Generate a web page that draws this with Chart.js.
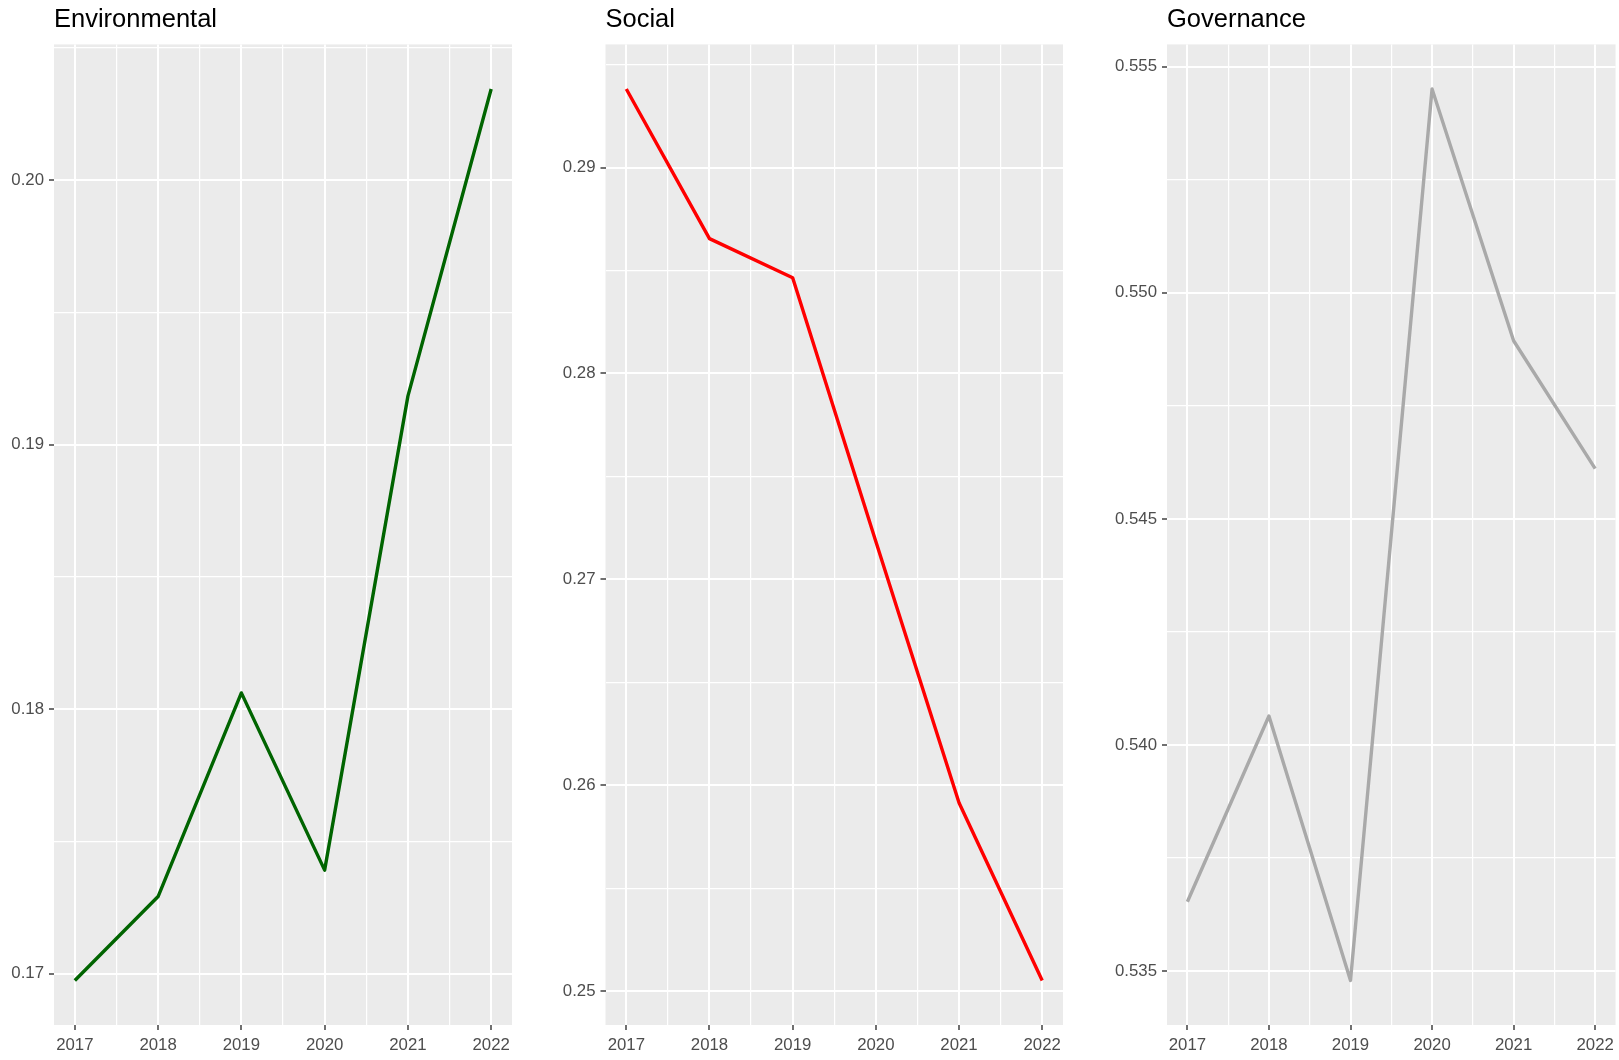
<!DOCTYPE html>
<html>
<head>
<meta charset="utf-8">
<script src="https://cdn.jsdelivr.net/npm/chart.js@4.4.1/dist/chart.umd.min.js"></script>
<style>
  html, body { margin: 0; padding: 0; background: #ffffff; }
  #wrap { position: relative; width: 1619px; height: 1060px; overflow: hidden; background: #ffffff; }
  #wrap canvas { position: absolute; top: 0; }
</style>
</head>
<body>
<div id="wrap">
  <canvas id="env" width="540" height="1060" style="left:0px"></canvas>
  <canvas id="soc" width="540" height="1060" style="left:540px"></canvas>
  <canvas id="gov" width="539" height="1060" style="left:1080px"></canvas>
</div>
<script>
// ESG pillar scores by year
const years = [2017, 2018, 2019, 2020, 2021, 2022];
const yearLabels = ['2017', '2018', '2019', '2020', '2021', '2022'];

const environmental = [0.16975, 0.17292, 0.18062, 0.17392, 0.19184, 0.20345];
const social        = [0.29382, 0.28655, 0.28465, 0.27184, 0.25915, 0.25052];
const governance    = [0.53653, 0.54064, 0.53479, 0.55451, 0.54894, 0.54611];

// y-axis breaks and their labels for each panel
const envTicks  = [0.17, 0.18, 0.19, 0.20];
const envLabels = ['0.17', '0.18', '0.19', '0.20'];
const socTicks  = [0.25, 0.26, 0.27, 0.28, 0.29];
const socLabels = ['0.25', '0.26', '0.27', '0.28', '0.29'];
const govTicks  = [0.535, 0.540, 0.545, 0.550, 0.555];
const govLabels = ['0.535', '0.540', '0.545', '0.550', '0.555'];

const FONT = '"Liberation Sans", Arial, Helvetica, sans-serif';
const PANEL_BG = '#EBEBEB';

// ggplot-style continuous expansion: 5% of the data range on each side
function expandRange(vals) {
  const lo = Math.min(...vals), hi = Math.max(...vals);
  const pad = (hi - lo) * 0.05;
  return [lo - pad, hi + pad];
}

// major breaks plus minor breaks halfway between them, kept inside [lo, hi]
function withMinor(majors, labels, lo, hi) {
  const step = majors[1] - majors[0];
  const out = [];
  const eps = step * 1e-6;
  const first = majors[0] - step / 2;
  if (first >= lo - eps) out.push({ value: first, isMajor: false, text: '' });
  majors.forEach((m, i) => {
    out.push({ value: m, isMajor: true, text: labels[i] });
    const half = m + step / 2;
    if (half <= hi + eps) out.push({ value: half, isMajor: false, text: '' });
  });
  return out.filter(t => t.value >= lo - eps && t.value <= hi + eps);
}

const panelBackground = {
  id: 'panelBackground',
  beforeDraw(chart) {
    const a = chart.chartArea;
    const ctx = chart.ctx;
    ctx.save();
    ctx.fillStyle = PANEL_BG;
    ctx.fillRect(a.left, a.top, a.right - a.left, a.bottom - a.top);
    ctx.restore();
  }
};

function gridOptions() {
  return {
    drawOnChartArea: true,
    drawTicks: true,
    tickLength: 5,
    color: '#FFFFFF',
    lineWidth: c => (c.tick && c.tick.isMajor ? 2 : 1.2),
    tickColor: c => (c.tick && c.tick.isMajor ? '#333333' : 'rgba(0,0,0,0)'),
    tickWidth: 1.4
  };
}

function makePanel(canvasId, title, values, color, yMajors, yLabels, axisWidth, padRight) {
  const [yLo, yHi] = expandRange(values);
  const [xLo, xHi] = expandRange(years);
  const yTickList = withMinor(yMajors, yLabels, yLo, yHi);
  const xTickList = withMinor(years, yearLabels, xLo, xHi);

  return new Chart(document.getElementById(canvasId), {
    type: 'line',
    data: {
      datasets: [{
        label: title,
        data: years.map((yr, i) => ({ x: yr, y: values[i] })),
        borderColor: color,
        backgroundColor: color,
        borderWidth: 3.4,
        borderJoinStyle: 'round',
        borderCapStyle: 'butt',
        pointRadius: 0,
        pointHoverRadius: 0,
        tension: 0,
        fill: false
      }]
    },
    options: {
      responsive: false,
      animation: false,
      devicePixelRatio: 1,
      layout: { padding: { left: 0, right: padRight, top: 0, bottom: 0 } },
      plugins: {
        legend: { display: false },
        tooltip: { enabled: false },
        title: {
          display: true,
          text: title,
          align: 'start',
          fullSize: false,
          color: '#000000',
          font: { family: FONT, size: 25.5, weight: 'normal', lineHeight: 1.2 },
          padding: { top: 4.5, bottom: 9.3 }
        }
      },
      scales: {
        x: {
          type: 'linear',
          min: xLo,
          max: xHi,
          border: { display: false },
          grid: gridOptions(),
          afterBuildTicks: s => { s.ticks = xTickList.map(t => Object.assign({}, t)); },
          afterFit: s => { s.height = 35; },
          ticks: {
            autoSkip: false,
            maxRotation: 0,
            padding: 5,
            color: '#4D4D4D',
            font: { family: FONT, size: 16.8 },
            callback: (v, i, ticks) => ticks[i].text || ''
          }
        },
        y: {
          type: 'linear',
          min: yLo,
          max: yHi,
          border: { display: false },
          grid: gridOptions(),
          afterBuildTicks: s => { s.ticks = yTickList.map(t => Object.assign({}, t)); },
          afterFit: s => { s.width = axisWidth; },
          ticks: {
            autoSkip: false,
            padding: 5,
            color: '#4D4D4D',
            font: { family: FONT, size: 16.8 },
            callback: (v, i, ticks) => ticks[i].text || ''
          }
        }
      }
    },
    plugins: [panelBackground]
  });
}

makePanel('env', 'Environmental', environmental, '#006400', envTicks, envLabels, 54, 28);
makePanel('soc', 'Social', social, '#FF0000', socTicks, socLabels, 65.5, 17);
makePanel('gov', 'Governance', governance, '#A9A9A9', govTicks, govLabels, 87, 2.6);
</script>
</body>
</html>
